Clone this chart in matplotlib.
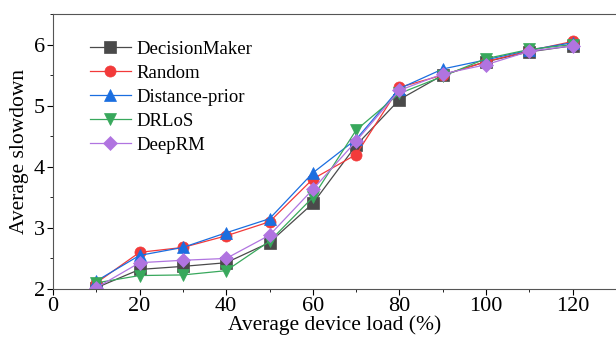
import numpy as np
import matplotlib
matplotlib.use('Agg')
import matplotlib.pyplot as plt
from matplotlib.ticker import MultipleLocator

plt.rcParams['font.family'] = ['Liberation Serif', 'DejaVu Serif']

# Data
load = [10, 20, 30, 40, 50, 60, 70, 80, 90, 100, 110, 120]
decision_maker = [2.02, 2.32, 2.37, 2.43, 2.76, 3.40, 4.35, 5.10, 5.50, 5.72, 5.88, 5.98]
random_pol = [2.10, 2.60, 2.68, 2.87, 3.10, 3.80, 4.20, 5.30, 5.50, 5.72, 5.90, 6.05]
distance_prior = [2.13, 2.55, 2.68, 2.92, 3.15, 3.90, 4.45, 5.28, 5.60, 5.75, 5.91, 6.03]
drlos = [2.10, 2.22, 2.23, 2.30, 2.78, 3.50, 4.60, 5.20, 5.48, 5.77, 5.92, 6.00]
deeprm = [2.02, 2.43, 2.47, 2.50, 2.88, 3.63, 4.42, 5.25, 5.52, 5.67, 5.89, 5.98]

series = [
    ('DecisionMaker', decision_maker, 's', '#4a4a4a'),
    ('Random', random_pol, 'o', '#f23a3a'),
    ('Distance-prior', distance_prior, '^', '#1a6ee0'),
    ('DRLoS', drlos, 'v', '#38a85c'),
    ('DeepRM', deeprm, 'D', '#b074e0'),
]

fig = plt.figure(figsize=(6.16, 3.41), dpi=100)
ax = fig.add_axes([0.086, 0.1525, 0.914, 0.8065])

for name, vals, mk, col in series:
    ms = 7 if mk == 'D' else 8
    ax.plot(load, vals, marker=mk, color=col, label=name,
            linewidth=0.9, markersize=ms, markeredgewidth=0.5)

ax.set_xlim(0, 130)
ax.set_ylim(2, 6.5)
ax.xaxis.set_major_locator(MultipleLocator(20))
ax.xaxis.set_minor_locator(MultipleLocator(10))
ax.yaxis.set_major_locator(MultipleLocator(1))
ax.yaxis.set_minor_locator(MultipleLocator(0.5))
ax.tick_params(which='both', direction='out', labelsize=16, top=False, right=False)
ax.tick_params(which='major', length=4, pad=2)
ax.tick_params(which='minor', length=2.5)
ax.spines['right'].set_visible(False)
for s in ['left', 'bottom', 'top']:
    ax.spines[s].set_color('#555555')

ax.set_xlabel('Average device load (%)', fontsize=15.5, labelpad=-1)
ax.set_ylabel('Average slowdown', fontsize=15.5, labelpad=3)

ax.legend(loc='upper left', frameon=False, fontsize=13.5, handlelength=2.2,
          borderaxespad=0.8, labelspacing=0.37, handletextpad=0.3,
          bbox_to_anchor=(0.025, 0.985))

fig.savefig('out.png', dpi=100)
